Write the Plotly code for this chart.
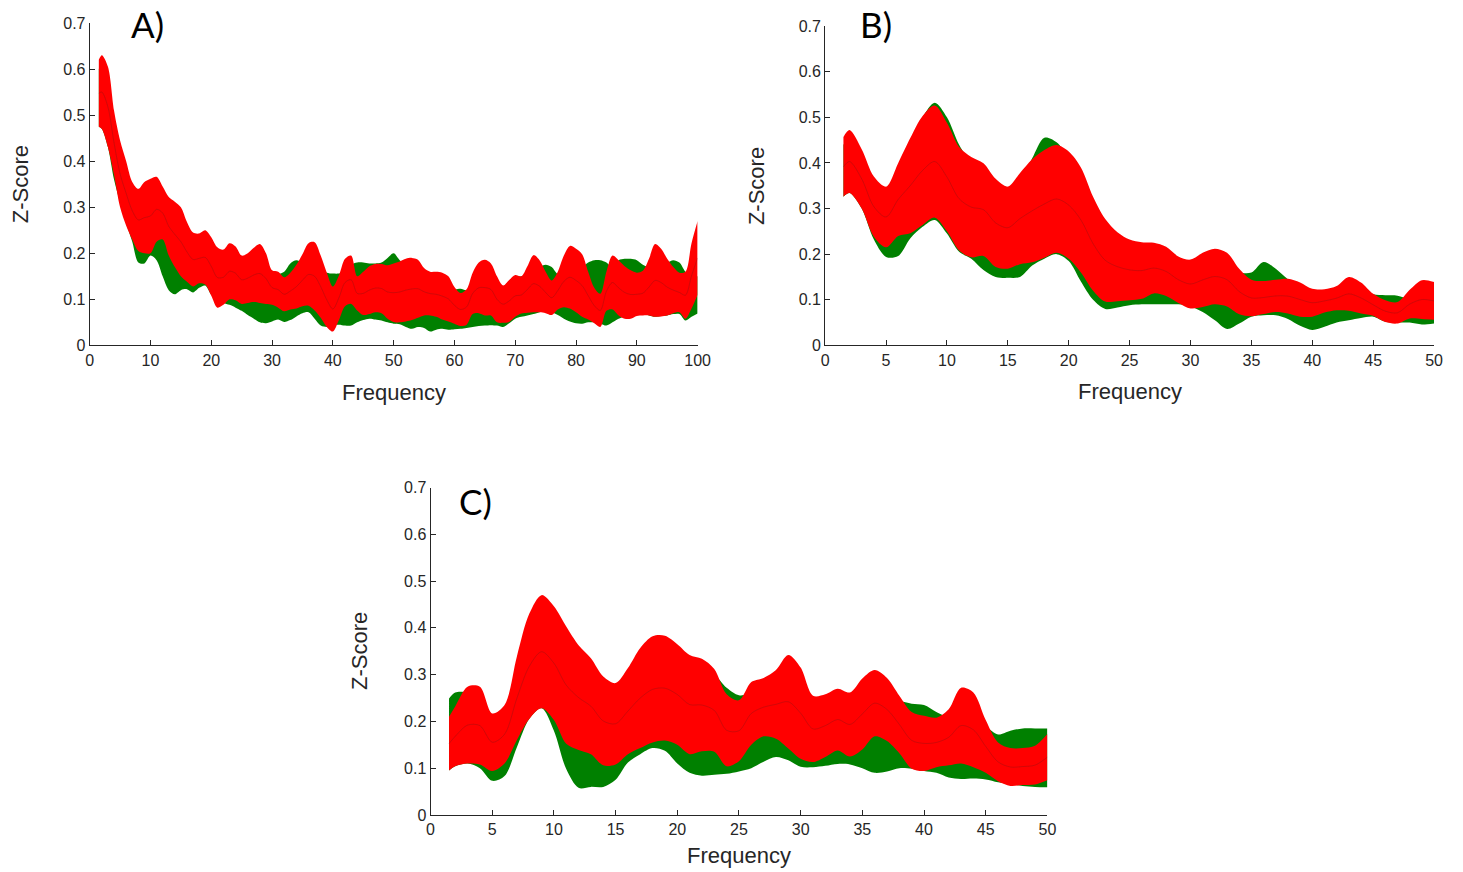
import plotly.graph_objects as go

# ---------------- data ----------------
# Panel A: frequency 1.5 .. 100
freq_a = [1.5] + list(range(2, 101))
red_hi_a = [0.62, 0.63, 0.605, 0.51, 0.445, 0.40, 0.355, 0.34, 0.355, 0.362,
            0.366, 0.345, 0.322, 0.312, 0.300, 0.268, 0.245, 0.243, 0.25, 0.235,
            0.213, 0.208, 0.222, 0.215, 0.195, 0.20, 0.212, 0.22, 0.20, 0.163,
            0.16, 0.148, 0.158, 0.175, 0.198, 0.222, 0.224, 0.195, 0.158, 0.128,
            0.152, 0.188, 0.195, 0.150, 0.160, 0.172, 0.177, 0.177, 0.174, 0.178,
            0.182, 0.188, 0.190, 0.186, 0.168, 0.160, 0.160, 0.158, 0.150, 0.127,
            0.114, 0.122, 0.158, 0.180, 0.186, 0.178, 0.150, 0.130, 0.142, 0.153,
            0.150, 0.172, 0.196, 0.185, 0.160, 0.141, 0.160, 0.195, 0.216, 0.210,
            0.198, 0.160, 0.125, 0.112, 0.160, 0.195, 0.185, 0.172, 0.163, 0.158,
            0.162, 0.188, 0.220, 0.210, 0.188, 0.170, 0.158, 0.160, 0.222, 0.270]
red_lo_a = [0.475, 0.47, 0.43, 0.37, 0.30, 0.26, 0.23, 0.205, 0.20, 0.20,
            0.225, 0.23, 0.195, 0.17, 0.15, 0.138, 0.128, 0.135, 0.132, 0.108,
            0.082, 0.088, 0.10, 0.098, 0.09, 0.092, 0.094, 0.092, 0.090, 0.088,
            0.082, 0.074, 0.078, 0.080, 0.085, 0.086, 0.076, 0.06, 0.04, 0.03,
            0.055, 0.085, 0.09, 0.076, 0.066, 0.068, 0.072, 0.070, 0.058, 0.051,
            0.050, 0.052, 0.055, 0.060, 0.065, 0.065, 0.062, 0.056, 0.052, 0.047,
            0.042, 0.045, 0.068, 0.07, 0.065, 0.065, 0.050, 0.049, 0.051, 0.062,
            0.069, 0.071, 0.072, 0.072, 0.070, 0.066, 0.078, 0.083, 0.080, 0.072,
            0.062, 0.056, 0.048, 0.040, 0.075, 0.078, 0.065, 0.058, 0.058, 0.064,
            0.065, 0.065, 0.062, 0.063, 0.065, 0.070, 0.072, 0.058, 0.080, 0.11]
green_hi_a = [0.60, 0.61, 0.58, 0.49, 0.42, 0.37, 0.33, 0.31, 0.32, 0.33,
              0.33, 0.31, 0.29, 0.28, 0.27, 0.24, 0.22, 0.22, 0.22, 0.21,
              0.2, 0.205, 0.2, 0.19, 0.18, 0.18, 0.19, 0.19, 0.18, 0.155,
              0.155, 0.16, 0.178, 0.185, 0.18, 0.175, 0.17, 0.165, 0.158, 0.156,
              0.156, 0.16, 0.175, 0.18, 0.18, 0.178, 0.178, 0.18, 0.19, 0.20,
              0.185, 0.175, 0.17, 0.165, 0.16, 0.155, 0.15, 0.14, 0.13, 0.122,
              0.123, 0.12, 0.13, 0.15, 0.16, 0.15, 0.14, 0.128, 0.14, 0.15,
              0.15, 0.155, 0.16, 0.17, 0.175, 0.17, 0.155, 0.16, 0.17, 0.17,
              0.17, 0.18, 0.185, 0.185, 0.18, 0.17, 0.185, 0.188, 0.188, 0.185,
              0.175, 0.17, 0.17, 0.175, 0.18, 0.185, 0.18, 0.16, 0.15, 0.15]
green_lo_a = [0.475, 0.47, 0.43, 0.36, 0.31, 0.265, 0.225, 0.18, 0.178, 0.195,
              0.185, 0.15, 0.12, 0.111, 0.12, 0.122, 0.115, 0.125, 0.13, 0.11,
              0.1, 0.092, 0.088, 0.082, 0.075, 0.066, 0.058, 0.050, 0.048, 0.052,
              0.056, 0.051, 0.055, 0.063, 0.07, 0.072, 0.058, 0.043, 0.040, 0.043,
              0.045, 0.043, 0.043, 0.05, 0.055, 0.058, 0.056, 0.054, 0.05, 0.047,
              0.046, 0.04, 0.036, 0.040, 0.038, 0.030, 0.034, 0.036, 0.034, 0.035,
              0.036, 0.038, 0.040, 0.042, 0.043, 0.044, 0.043, 0.040, 0.048, 0.058,
              0.062, 0.065, 0.068, 0.072, 0.076, 0.072, 0.066, 0.058, 0.052, 0.048,
              0.047, 0.050, 0.050, 0.047, 0.043, 0.050, 0.058, 0.063, 0.068, 0.072,
              0.070, 0.065, 0.062, 0.064, 0.065, 0.068, 0.068, 0.054, 0.062, 0.069]

# Panel B: frequency 1.5 .. 50
freq_b = [1.5] + list(range(2, 51))
red_hi_b = [0.457, 0.472, 0.43, 0.37, 0.348, 0.40, 0.455, 0.503, 0.526, 0.488,
            0.435, 0.413, 0.399, 0.365, 0.348, 0.378, 0.408, 0.428, 0.439, 0.425,
            0.39, 0.326, 0.277, 0.248, 0.232, 0.226, 0.225, 0.216, 0.195, 0.188,
            0.203, 0.212, 0.203, 0.168, 0.144, 0.141, 0.144, 0.146, 0.138, 0.124,
            0.123, 0.13, 0.15, 0.138, 0.113, 0.099, 0.095, 0.122, 0.143, 0.139]
red_lo_b = [0.326, 0.334, 0.30, 0.238, 0.215, 0.24, 0.246, 0.264, 0.28, 0.25,
            0.208, 0.193, 0.196, 0.172, 0.168, 0.178, 0.182, 0.192, 0.203, 0.19,
            0.16, 0.12, 0.096, 0.097, 0.099, 0.102, 0.114, 0.108, 0.093, 0.081,
            0.084, 0.09, 0.085, 0.068, 0.064, 0.069, 0.073, 0.07, 0.063, 0.063,
            0.072, 0.077, 0.076, 0.07, 0.065, 0.051, 0.048, 0.059, 0.058, 0.056]
green_hi_b = [0.44, 0.45, 0.41, 0.35, 0.33, 0.38, 0.44, 0.50, 0.532, 0.50,
              0.44, 0.40, 0.38, 0.35, 0.33, 0.36, 0.41, 0.455, 0.445, 0.41,
              0.37, 0.31, 0.26, 0.23, 0.21, 0.2, 0.2, 0.19, 0.18, 0.17,
              0.18, 0.18, 0.17, 0.16, 0.16, 0.183, 0.168, 0.145, 0.13, 0.115,
              0.115, 0.12, 0.13, 0.125, 0.112, 0.11, 0.109, 0.1, 0.09, 0.08]
green_lo_b = [0.326, 0.334, 0.30, 0.232, 0.194, 0.196, 0.235, 0.26, 0.275, 0.245,
              0.205, 0.19, 0.165, 0.15, 0.148, 0.15, 0.175, 0.19, 0.2, 0.185,
              0.14, 0.10, 0.08, 0.083, 0.088, 0.09, 0.09, 0.09, 0.09, 0.085,
              0.073, 0.055, 0.036, 0.048, 0.063, 0.066, 0.066, 0.058, 0.043, 0.034,
              0.041, 0.05, 0.055, 0.06, 0.063, 0.052, 0.05, 0.05, 0.046, 0.048]

# Panel C: frequency 1.5 .. 50
freq_c = [1.5] + list(range(2, 51))
red_hi_c = [0.21, 0.232, 0.274, 0.274, 0.217, 0.235, 0.339, 0.43, 0.47, 0.446,
            0.403, 0.363, 0.335, 0.296, 0.282, 0.314, 0.357, 0.382, 0.383, 0.365,
            0.342, 0.334, 0.312, 0.258, 0.245, 0.284, 0.293, 0.31, 0.342, 0.315,
            0.255, 0.258, 0.27, 0.262, 0.292, 0.31, 0.293, 0.255, 0.22, 0.212,
            0.208, 0.226, 0.272, 0.262, 0.203, 0.155, 0.143, 0.143, 0.148, 0.173]
red_lo_c = [0.095, 0.104, 0.11, 0.108, 0.094, 0.11, 0.16, 0.205, 0.228, 0.203,
            0.152, 0.139, 0.13, 0.106, 0.108, 0.13, 0.143, 0.155, 0.159, 0.15,
            0.13, 0.136, 0.135, 0.104, 0.115, 0.15, 0.168, 0.163, 0.142, 0.12,
            0.113, 0.124, 0.138, 0.125, 0.14, 0.168, 0.158, 0.132, 0.099, 0.094,
            0.102, 0.106, 0.11, 0.102, 0.09, 0.072, 0.062, 0.064, 0.065, 0.074]
green_hi_c = [0.249, 0.262, 0.262, 0.25, 0.2, 0.21, 0.3, 0.4, 0.44, 0.42,
              0.38, 0.34, 0.31, 0.28, 0.26, 0.29, 0.33, 0.36, 0.36, 0.34,
              0.32, 0.31, 0.3, 0.272, 0.256, 0.26, 0.27, 0.28, 0.3, 0.28,
              0.24, 0.24, 0.25, 0.25, 0.27, 0.28, 0.27, 0.245, 0.238, 0.235,
              0.22, 0.21, 0.22, 0.215, 0.19, 0.172, 0.18, 0.185, 0.185, 0.185]
green_lo_c = [0.095, 0.104, 0.11, 0.1, 0.073, 0.083, 0.145, 0.205, 0.228, 0.18,
              0.098, 0.058, 0.06, 0.06, 0.075, 0.112, 0.13, 0.143, 0.137, 0.11,
              0.09, 0.084, 0.086, 0.088, 0.093, 0.1, 0.114, 0.124, 0.117, 0.103,
              0.102, 0.105, 0.109, 0.108, 0.1, 0.09, 0.093, 0.1, 0.099, 0.094,
              0.09, 0.08, 0.077, 0.078, 0.076, 0.07, 0.066, 0.062, 0.06, 0.059]

y_ticks = [0, 0.1, 0.2, 0.3, 0.4, 0.5, 0.6, 0.7]
x_ticks_a = list(range(0, 101, 10))
x_ticks_bc = list(range(0, 51, 5))

# ---------------- figure ----------------
W, H = 1463, 872
# drawable paper area as laid out in the page (left, width, top, height in px)
PX0, PXW, PY0, PYH = 2.0, 1451.0, 9.0, 854.0


def fx(px):
    return (px - PX0) / PXW


def fy(py):
    return 1 - (py - PY0) / PYH


AX = "#262626"
GREEN = "#008000"
RED = "#FF0000"
MEAN = "rgba(110,25,25,0.45)"
TICK_FONT = dict(family="Liberation Sans, Arial, sans-serif", size=16, color=AX)
LABEL_FONT = dict(family="Liberation Sans, Arial, sans-serif", size=22, color=AX)
PANEL_FONT = dict(family="Lato, Open Sans, sans-serif", size=35, color="black")

panels = [
    dict(sfx="", x=freq_a, gl=green_lo_a, gu=green_hi_a, rl=red_lo_a, ru=red_hi_a,
         xmax=100, xt=x_ticks_a, box=(88, 698, 24, 346), tag="A)", tag_xy=(146, 25),
         ylab_x=18, xlab_y=393),
    dict(sfx="2", x=freq_b, gl=green_lo_b, gu=green_hi_b, rl=red_lo_b, ru=red_hi_b,
         xmax=50, xt=x_ticks_bc, box=(826, 1437, 27, 346), tag="B)", tag_xy=(877, 25),
         ylab_x=757, xlab_y=392),
    dict(sfx="3", x=freq_c, gl=green_lo_c, gu=green_hi_c, rl=red_lo_c, ru=red_hi_c,
         xmax=50, xt=x_ticks_bc, box=(430, 1049, 488, 815), tag="C)", tag_xy=(475, 501),
         ylab_x=358, xlab_y=856),
]

fig = go.Figure()
annotations = []
layout_axes = {}

for p in panels:
    xa, ya = "x" + p["sfx"], "y" + p["sfx"]
    common = dict(xaxis=xa, yaxis=ya, mode="lines", showlegend=False, hoverinfo="skip")
    spline = dict(width=0, shape="spline", smoothing=0.9)
    # green band
    fig.add_trace(go.Scatter(x=p["x"], y=p["gl"], line=dict(color=GREEN, **spline), **common))
    fig.add_trace(go.Scatter(x=p["x"], y=p["gu"], line=dict(color=GREEN, **spline),
                             fill="tonexty", fillcolor=GREEN, **common))
    # red band
    fig.add_trace(go.Scatter(x=p["x"], y=p["rl"], line=dict(color=RED, **spline), **common))
    fig.add_trace(go.Scatter(x=p["x"], y=p["ru"], line=dict(color=RED, **spline),
                             fill="tonexty", fillcolor=RED, **common))
    # mean line of the red band
    mean = [(a + b) / 2 for a, b in zip(p["rl"], p["ru"])]
    fig.add_trace(go.Scatter(x=p["x"], y=mean,
                             line=dict(color=MEAN, width=0.7, shape="spline", smoothing=0.9),
                             **common))

    x0, x1, y0, y1 = p["box"]
    axis_style = dict(showline=True, linecolor=AX, linewidth=1, ticks="inside",
                      ticklen=5, tickwidth=1, tickcolor=AX, showgrid=False,
                      zeroline=False, tickfont=TICK_FONT, fixedrange=True)
    layout_axes["xaxis" + p["sfx"]] = dict(domain=[fx(x0), fx(x1)], anchor=ya,
                                           range=[0, p["xmax"]], tickvals=p["xt"],
                                           **axis_style)
    layout_axes["yaxis" + p["sfx"]] = dict(domain=[fy(y1), fy(y0)], anchor=xa,
                                           range=[0, 0.7], tickvals=y_ticks,
                                           ticktext=[("%g" % v) for v in y_ticks],
                                           **axis_style)

    annotations.append(dict(text="Z-Score", x=fx(p["ylab_x"]), y=fy((y0 + y1) / 2),
                            xref="paper", yref="paper", textangle=-90, showarrow=False,
                            xanchor="center", yanchor="middle", font=LABEL_FONT))
    annotations.append(dict(text="Frequency", x=fx((x0 + x1) / 2), y=fy(p["xlab_y"]),
                            xref="paper", yref="paper", showarrow=False,
                            xanchor="center", yanchor="middle", font=LABEL_FONT))
    annotations.append(dict(text=p["tag"], x=fx(p["tag_xy"][0]), y=fy(p["tag_xy"][1]),
                            xref="paper", yref="paper", showarrow=False, borderpad=0,
                            xanchor="center", yanchor="middle", font=PANEL_FONT))

fig.update_layout(width=W, height=H, margin=dict(l=0, r=0, t=0, b=0),
                  paper_bgcolor="white", plot_bgcolor="white",
                  annotations=annotations, **layout_axes)

fig.write_html("out.html")
